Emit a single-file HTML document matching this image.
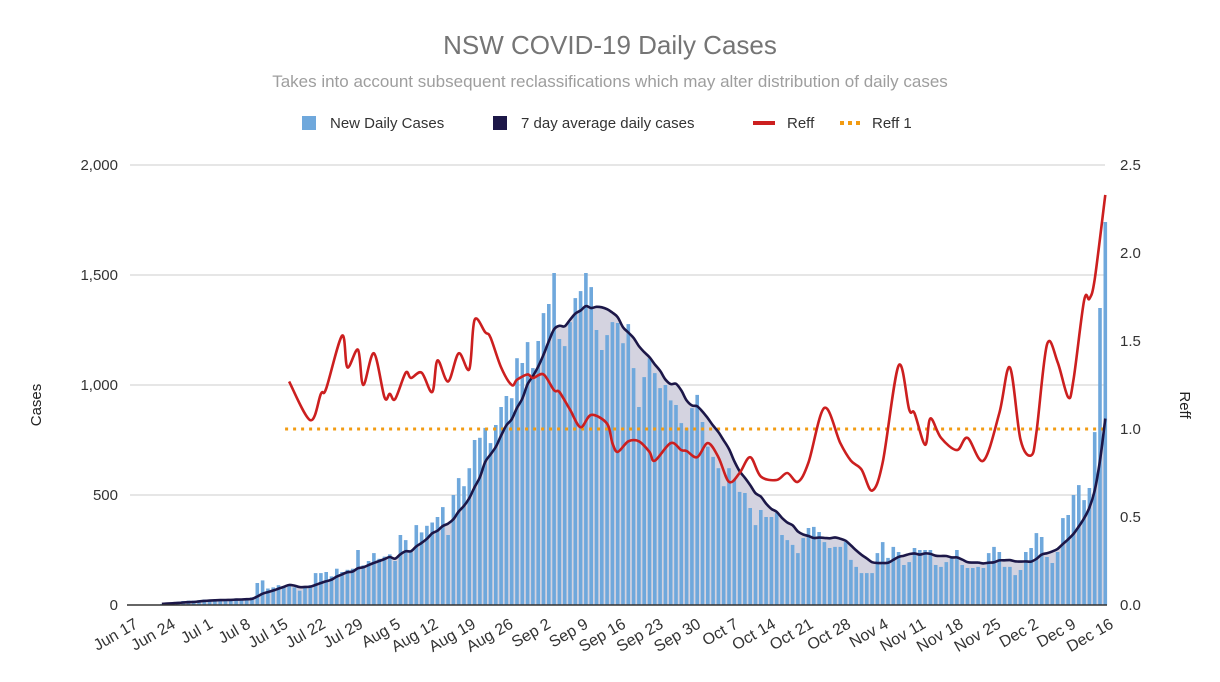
<!DOCTYPE html>
<html><head><meta charset="utf-8">
<style>
body{margin:0;background:#fff;width:1220px;height:677px;overflow:hidden;font-family:"Liberation Sans",Arial,sans-serif;}
svg text{font-family:"Liberation Sans",Arial,sans-serif;}
</style></head>
<body>
<svg id="chart" width="1220" height="677" viewBox="0 0 1220 677" xmlns="http://www.w3.org/2000/svg">
<text x="610" y="54" text-anchor="middle" font-size="26" fill="#757575">NSW COVID-19 Daily Cases</text>
<text x="610" y="87" text-anchor="middle" font-size="17" fill="#9e9e9e">Takes into account subsequent reclassifications which may alter distribution of daily cases</text>
<g font-size="15" fill="#333">
<g><rect x="302" y="116" width="14" height="14" fill="#6fa8dc"/><text x="330" y="128">New Daily Cases</text></g>
<g><rect x="493" y="116" width="14" height="14" fill="#1c1748"/><text x="521" y="128">7 day average daily cases</text></g>
<g><rect x="753" y="121" width="22" height="4" fill="#cc1f1f"/><text x="787" y="128">Reff</text></g>
<g><line x1="840" y1="123" x2="862" y2="123" stroke="#f29b12" stroke-width="4" stroke-dasharray="4,4"/><text x="872" y="128">Reff 1</text></g>
</g>
<text transform="translate(41,405) rotate(-90)" text-anchor="middle" font-size="15" fill="#222">Cases</text>
<text transform="translate(1180,405) rotate(90)" text-anchor="middle" font-size="15" fill="#222">Reff</text>
<g id="grid"></g>
<g id="area"></g>
<g id="bars"></g>
<g id="lines"></g>
<g id="axes"></g>
</svg>
<script>
const NS="http://www.w3.org/2000/svg";
const startDate=new Date(2021,5,17);
const dailyCases=[0,0,0,5,8,10,15,18,20,20,22,25,20,24,25,22,25,30,28,30,35,100,112,75,80,90,85,95,80,65,80,90,145,145,150,130,165,150,160,165,250,180,200,236,210,220,230,200,318,295,240,363,330,360,375,400,445,318,500,577,540,622,750,760,805,736,818,900,950,940,1122,1100,1195,1077,1200,1327,1368,1509,1209,1177,1286,1395,1427,1509,1445,1250,1159,1227,1286,1282,1190,1277,1077,900,1036,1122,1054,986,1000,930,909,827,805,895,955,832,720,673,622,540,622,568,514,509,441,363,432,400,400,418,318,295,273,236,304,350,355,332,286,259,264,264,286,205,173,145,145,145,236,286,214,264,241,182,195,259,250,250,250,182,173,195,214,250,182,168,168,173,168,236,264,241,173,173,136,159,241,259,327,309,218,191,241,395,409,500,545,477,532,786,1350,1741];
const reffDays=[27,31,33,34,37,38,40,41,43,45,46,47,49,50,52,54,55,57,59,61,62,64,65,67,69,70,72,73,75,77,78,80,82,84,87,88,89,91,93,95,96,99,101,102,104,106,108,110,112,114,116,119,121,123,125,128,131,133,135,137,139,142,144,145,147,148,150,153,155,158,161,163,165,167,168,170,172,174,175,177,178,179,181];
const reffValues=[1.27,1.05,1.2,1.23,1.53,1.35,1.45,1.25,1.43,1.18,1.2,1.17,1.32,1.29,1.32,1.21,1.39,1.27,1.43,1.34,1.62,1.55,1.52,1.35,1.25,1.28,1.31,1.29,1.31,1.22,1.21,1.11,1.01,1.08,1.03,0.92,0.87,0.93,0.93,0.87,0.82,0.92,0.88,0.875,0.84,0.92,0.84,0.70,0.75,0.84,0.73,0.71,0.75,0.70,0.81,1.12,0.92,0.82,0.77,0.65,0.81,1.36,1.11,1.09,0.91,1.06,0.95,0.88,0.95,0.82,1.09,1.35,0.94,0.85,0.98,1.48,1.38,1.18,1.28,1.73,1.74,1.85,2.33];
const leftTicks=[0,500,1000,1500,2000];
const leftTickLabels=["0","500","1,000","1,500","2,000"];
const rightTicks=[0,0.5,1,1.5,2,2.5];
const rightTickLabels=["0.0","0.5","1.0","1.5","2.0","2.5"];
const reffThreshold=1;
const monthNames=["Jan","Feb","Mar","Apr","May","Jun","Jul","Aug","Sep","Oct","Nov","Dec"];

const X0=146, DX=5.3, Y0=605, TOP=165;
const xs=i=>X0+DX*i;
const xl=i=>139+5.36*i;
const yL=v=>Y0-(v/2000)*(Y0-TOP);
const yR=v=>Y0-(v/2.5)*(Y0-TOP);
function mk(tag,attrs,parent){const e=document.createElementNS(NS,tag);for(const k in attrs)e.setAttribute(k,attrs[k]);parent.appendChild(e);return e;}

const grid=document.getElementById('grid');
leftTicks.forEach((t,k)=>{
  if(t>0){const g=mk('line',{x1:130,x2:1105,y1:yL(t),y2:yL(t),stroke:'#cccccc','stroke-width':1},grid);
  
  }
  const tx=mk('text',{x:118,y:yL(t)+5,'text-anchor':'end','font-size':15,fill:'#333'},grid);
  tx.textContent=leftTickLabels[k];
  
  
});
rightTicks.forEach((t,k)=>{
  const tx=mk('text',{x:1120,y:yR(t)+5,'text-anchor':'start','font-size':15,fill:'#333'},grid);
  tx.textContent=rightTickLabels[k];
  
  
});

const firstAvg=3;
const avgPts=[];
dailyCases.forEach((v,i)=>{if(i>=firstAvg){let n=Math.min(7,i-firstAvg+1),s=0;for(let j=i-n+1;j<=i;j++)s+=dailyCases[j];avgPts.push([xs(i),yL(s/n)]);}});

const area=document.getElementById('area');
const ap=mk('path',{d:'M'+avgPts[0][0]+','+Y0+' L'+avgPts.map(p=>p[0].toFixed(1)+','+p[1].toFixed(1)).join(' L')+' L'+avgPts[avgPts.length-1][0]+','+Y0+'Z',fill:'#d4d3e0'},area);



const bars=document.getElementById('bars');
dailyCases.forEach((v,i)=>{
  if(v<=0)return;
  const r=mk('rect',{x:(xs(i)-1.8).toFixed(1),y:yL(v).toFixed(1),width:3.6,height:(Y0-yL(v)).toFixed(1),fill:'#6fa8dc'},bars);
  
  
});

function smooth(pts){let d='M'+pts[0][0].toFixed(1)+','+pts[0][1].toFixed(1);
  for(let i=0;i<pts.length-1;i++){const p0=pts[Math.max(0,i-1)],p1=pts[i],p2=pts[i+1],p3=pts[Math.min(pts.length-1,i+2)];
  const c1=[p1[0]+(p2[0]-p0[0])/6,p1[1]+(p2[1]-p0[1])/6],c2=[p2[0]-(p3[0]-p1[0])/6,p2[1]-(p3[1]-p1[1])/6];
  d+=' C'+c1[0].toFixed(1)+','+c1[1].toFixed(1)+' '+c2[0].toFixed(1)+','+c2[1].toFixed(1)+' '+p2[0].toFixed(1)+','+p2[1].toFixed(1);}
  return d;}

const lines=document.getElementById('lines');
const th=mk('line',{x1:xs(reffDays[0])-4,x2:1105,y1:yR(reffThreshold),y2:yR(reffThreshold),stroke:'#f29b12','stroke-width':3,'stroke-dasharray':'3,5'},lines);


const al=mk('path',{d:smooth(avgPts),fill:'none',stroke:'#1c1748','stroke-width':2.6},lines);


const rl=mk('path',{d:smooth(reffDays.map((d,k)=>[xs(d),yR(reffValues[k])])),fill:'none',stroke:'#cc1f1f','stroke-width':2.6},lines);



const axes=document.getElementById('axes');
const base=mk('line',{x1:127,x2:1107,y1:Y0,y2:Y0,stroke:'#333','stroke-width':1.5},axes);


for(let i=0;i<=182;i+=7){
  const d=new Date(startDate.getTime());d.setDate(d.getDate()+i);
  const tx=mk('text',{transform:'translate('+xl(i).toFixed(1)+',627) rotate(-30)','text-anchor':'end','font-size':16,fill:'#333'},axes);
  tx.textContent=monthNames[d.getMonth()]+' '+d.getDate();
  
  
}
</script>
</body></html>
